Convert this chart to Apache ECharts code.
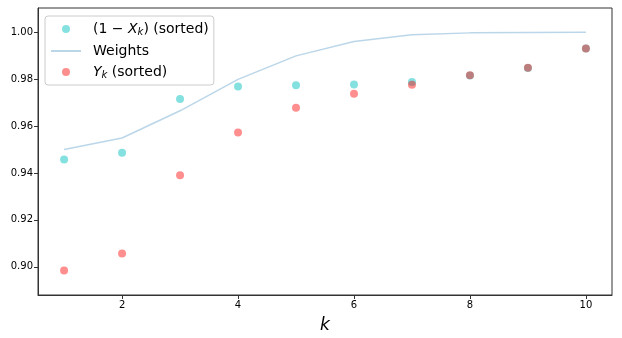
<!DOCTYPE html>
<html>
<head>
<meta charset="utf-8">
<script src="https://cdn.jsdelivr.net/npm/echarts@6/dist/echarts.min.js"></script>
<style>
  html, body { margin: 0; padding: 0; background: #fff; }
  #chart { width: 622px; height: 338px; }
</style>
</head>
<body>
<div id="chart"></div>
<script>
// data
const ks = [1, 2, 3, 4, 5, 6, 7, 8, 9, 10];
const oneMinusX = [0.9457, 0.9486, 0.9715, 0.9769, 0.9774, 0.9777, 0.9788, 0.9815, 0.9847, 0.9930];
const weights = [0.9500, 0.9549, 0.9665, 0.9799, 0.9899, 0.9960, 0.9989, 0.9997, 0.9999, 1.0000];
const yk = [0.8984, 0.9057, 0.9390, 0.9572, 0.9678, 0.9738, 0.9776, 0.9816, 0.9848, 0.9930];
const xTicks = [2, 4, 6, 8, 10];
const yTicks = [0.90, 0.92, 0.94, 0.96, 0.98, 1.00];

const pairs = (vals) => ks.map((k, i) => [k, vals[i]]);

const font = "DejaVu Sans";
const chart = echarts.init(document.getElementById("chart"));

const legendRich = {
  f: { fontFamily: font, fontSize: 14, color: "#000", padding: [0, 0, 0, 7] },
  a: { fontFamily: font, fontSize: 14, color: "#000" },
  i: { fontFamily: font, fontSize: 14, fontStyle: "italic", color: "#000" },
  fi: { fontFamily: font, fontSize: 14, fontStyle: "italic", color: "#000", padding: [0, 0, 0, 7] },
  s: { fontFamily: font, fontSize: 10, fontStyle: "italic", color: "#000", verticalAlign: "bottom", padding: [6, 0, 0, 0] }
};

chart.setOption({
  animation: false,
  backgroundColor: "#fff",
  grid: {
    left: 38, right: 10, top: 8, bottom: 43,
    outerBoundsMode: "none",
    containLabel: false,
    show: true, borderColor: "#333", borderWidth: 1
  },
  legend: {
    orient: "vertical",
    left: 45, top: 16,
    padding: [6, 5, 5, 5],
    itemGap: 7,
    itemWidth: 30, itemHeight: 8,
    borderColor: "#ccc", borderWidth: 1, borderRadius: 3,
    backgroundColor: "rgba(255,255,255,0.8)",
    textStyle: { fontFamily: font, fontSize: 14, color: "#000", rich: legendRich },
    data: [
      { name: "one", icon: "circle" },
      { name: "Weights", itemStyle: { opacity: 0 }, lineStyle: { width: 2 } },
      { name: "y", icon: "circle" }
    ],
    formatter: function (name) {
      if (name === "one") return "{f|(1 − }{i|X}{s|k}{a|) (sorted)}";
      if (name === "y") return "{fi|Y}{s|k}{a| (sorted)}";
      return "{f|Weights}";
    }
  },
  xAxis: {
    type: "value",
    min: 0.55, max: 10.45,
    name: "k",
    nameLocation: "middle",
    nameGap: 22,
    nameTextStyle: { fontFamily: font, fontSize: 17, fontStyle: "italic", color: "#000" },
    axisLine: { show: true, lineStyle: { color: "#333" } },
    axisTick: { show: true, length: 4, inside: false, customValues: xTicks, lineStyle: { color: "#333" } },
    axisLabel: { customValues: xTicks, fontFamily: font, fontSize: 10, color: "#000", margin: 5 },
    splitLine: { show: false }
  },
  yAxis: {
    type: "value",
    min: 0.888, max: 1.0103,
    axisLine: { show: true, lineStyle: { color: "#333" } },
    axisTick: { show: true, length: 4, inside: false, customValues: yTicks, lineStyle: { color: "#333" } },
    axisLabel: {
      customValues: yTicks, fontFamily: font, fontSize: 10, color: "#000", margin: 5,
      formatter: (v) => v.toFixed(2)
    },
    splitLine: { show: false }
  },
  series: [
    {
      name: "one",
      type: "scatter",
      data: pairs(oneMinusX),
      symbolSize: 8,
      itemStyle: { color: "rgba(0,191,191,0.6)" },
      z: 2
    },
    {
      name: "Weights",
      type: "line",
      data: pairs(weights),
      symbol: "none",
      lineStyle: { color: "rgba(31,119,180,0.3)", width: 1.5 },
      itemStyle: { color: "rgba(31,119,180,0.3)" },
      z: 3
    },
    {
      name: "y",
      type: "scatter",
      data: pairs(yk),
      symbolSize: 8,
      itemStyle: { color: "rgba(255,0,0,0.55)" },
      z: 4
    }
  ]
});
</script>
</body>
</html>
